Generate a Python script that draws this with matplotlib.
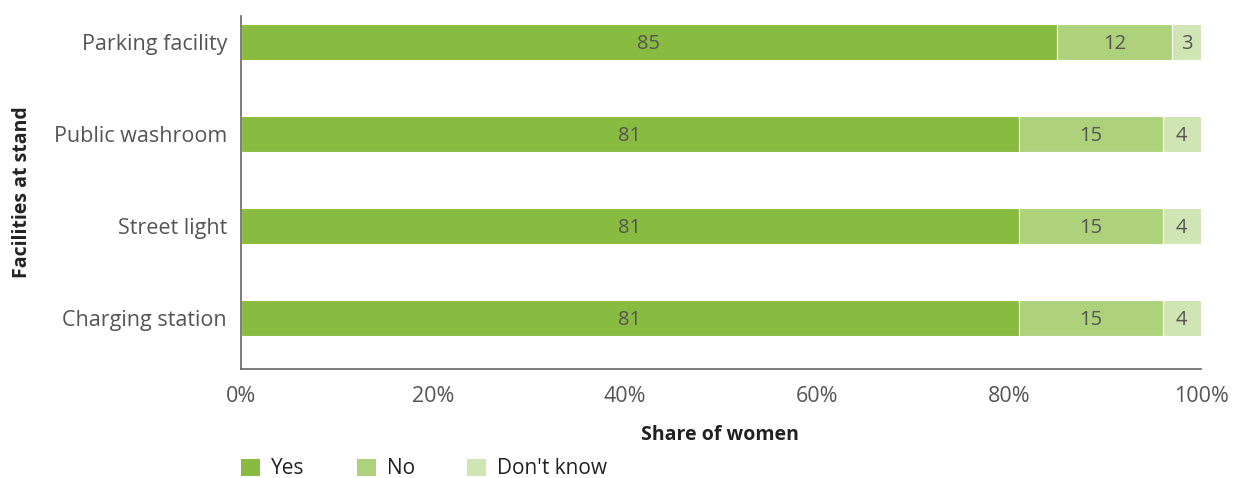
import matplotlib
matplotlib.use("Agg")
import matplotlib.pyplot as plt
from matplotlib.patches import Patch

facilities = ["Parking facility", "Public washroom", "Street light", "Charging station"]
yes = [85, 81, 81, 81]
no = [12, 15, 15, 15]
dont_know = [3, 4, 4, 4]
series_names = ["Yes", "No", "Don't know"]
colors = ["#8abb41", "#aed17c", "#d0e5b4"]
xticks = [0, 20, 40, 60, 80, 100]

plt.rcParams["font.family"] = ["Open Sans", "DejaVu Sans"]
text_color = "#555555"

fig = plt.figure(figsize=(12.35, 4.78), dpi=100)
ax = fig.add_axes([241 / 1235, 1 - 369 / 478, 960 / 1235, 353 / 478])

ypos = list(range(len(facilities)))
left = [0] * len(facilities)
for vals, name, col in zip([yes, no, dont_know], series_names, colors):
    bars = ax.barh(ypos, vals, left=left, height=0.4, color=col,
                   edgecolor="white", linewidth=0.8, label=name)
    for b, v in zip(bars, vals):
        ax.text(b.get_x() + b.get_width() / 2, b.get_y() + b.get_height() / 2 + 0.02,
                f"{v}", ha="center", va="center", fontsize=14.5, color=text_color)
    left = [l + v for l, v in zip(left, vals)]

ax.set_ylim(3.554, -0.283)
ax.set_xlim(0, 100)
ax.set_yticks(ypos)
ax.set_yticklabels(facilities, fontsize=15.5, color=text_color)
ax.set_xticks(xticks)
ax.set_xticklabels([f"{t}%" for t in xticks], fontsize=15.5, color=text_color)
ax.tick_params(axis="x", length=0, pad=12)
ax.tick_params(axis="y", length=0, pad=10)
for s in ["top", "right"]:
    ax.spines[s].set_visible(False)
for s in ["left", "bottom"]:
    ax.spines[s].set_color("#666666")
    ax.spines[s].set_linewidth(1.2)

fig.text(720 / 1235, 1 - 435 / 478, "Share of women", ha="center", va="center",
         fontsize=14, fontweight="bold", color="#222222")
fig.text(22 / 1235, 1 - 192 / 478, "Facilities at stand", ha="center", va="center",
         rotation=90, fontsize=14, fontweight="bold", color="#222222")

handles = [Patch(facecolor=c, edgecolor="none") for c in colors]
fig.legend(handles, series_names, loc="center left",
           bbox_to_anchor=(241 / 1235, 1 - 469 / 478), ncol=3, frameon=False,
           fontsize=15, handlelength=0.9, handleheight=0.9, columnspacing=2.5,
           handletextpad=0.55, borderpad=0.0, borderaxespad=0.0,
           labelcolor="#222222")

fig.savefig("out.png", dpi=100)
